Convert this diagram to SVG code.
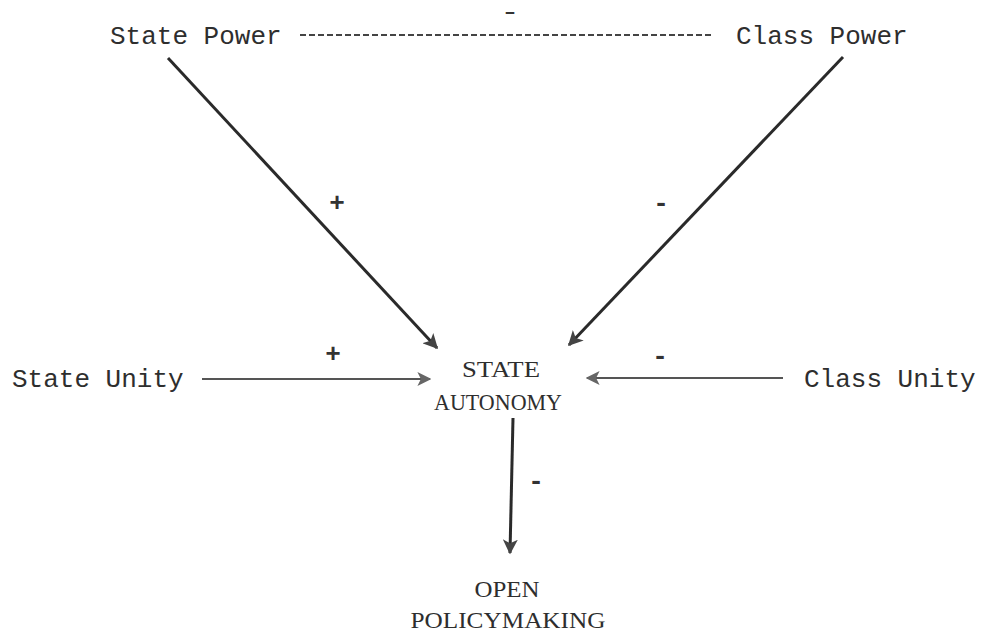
<svg xmlns="http://www.w3.org/2000/svg" width="987" height="634" viewBox="0 0 987 634">
<style>
.mono{font-family:"Liberation Mono","DejaVu Sans Mono",monospace;font-size:26px;fill:#2e2e2e}
.serif{font-family:"Liberation Serif","DejaVu Serif",serif;font-size:23px;fill:#2e2e2e;text-anchor:middle}
.sign{font-family:"Liberation Mono","DejaVu Sans Mono",monospace;font-size:26px;font-weight:bold;fill:#333;text-anchor:middle}
.thick{stroke:#2a2a2a;stroke-width:3;fill:none;marker-end:url(#ah)}
.thin{stroke:#555;stroke-width:2;fill:none;marker-end:url(#ah2)}
</style>
<defs>
<marker id="ah" viewBox="0 0 10 10" refX="9" refY="5" markerWidth="5" markerHeight="5" orient="auto" markerUnits="strokeWidth">
<path d="M0,0 L10,5 L0,10 L2.5,5 Z" fill="#444"/>
</marker>
<marker id="ah2" viewBox="0 0 10 10" refX="9" refY="5" markerWidth="7" markerHeight="7" orient="auto" markerUnits="strokeWidth">
<path d="M0,0 L10,5 L0,10 L2.5,5 Z" fill="#666"/>
</marker>
</defs>
<rect width="987" height="634" fill="#fff"/>
<g id="state-power"><text class="mono" x="110" y="44">State Power</text></g>
<g id="class-power"><text class="mono" x="736" y="44">Class Power</text></g>
<g id="state-unity"><text class="mono" x="12" y="387">State Unity</text></g>
<g id="class-unity"><text class="mono" x="804" y="387">Class Unity</text></g>
<g id="state-autonomy">
<text class="serif" x="501" y="377" textLength="78" lengthAdjust="spacingAndGlyphs">STATE</text>
<text class="serif" x="498" y="410" textLength="128" lengthAdjust="spacingAndGlyphs">AUTONOMY</text>
</g>
<g id="open-policymaking">
<text class="serif" x="507" y="597" textLength="65" lengthAdjust="spacingAndGlyphs">OPEN</text>
<text class="serif" x="508" y="628" textLength="195" lengthAdjust="spacingAndGlyphs">POLICYMAKING</text>
</g>
<g id="connectors">
<line x1="300" y1="35" x2="713" y2="35" stroke="#444" stroke-width="2" stroke-dasharray="6,3"/>
<line class="thick" x1="168" y1="58" x2="437" y2="348"/>
<line class="thick" x1="843" y1="57" x2="569" y2="345"/>
<line class="thin" x1="202" y1="379" x2="430" y2="379"/>
<line class="thin" x1="783" y1="378" x2="587" y2="378"/>
<line class="thick" x1="513" y1="418" x2="510" y2="553"/>
</g>
<g id="signs">
<text class="sign" x="510" y="17" style="font-size:17px" textLength="18" lengthAdjust="spacingAndGlyphs">-</text>
<text class="sign" x="337" y="211">+</text>
<text class="sign" x="661" y="211">-</text>
<text class="sign" x="333" y="362">+</text>
<text class="sign" x="660" y="364">-</text>
<text class="sign" x="536" y="489">-</text>
</g>
</svg>
